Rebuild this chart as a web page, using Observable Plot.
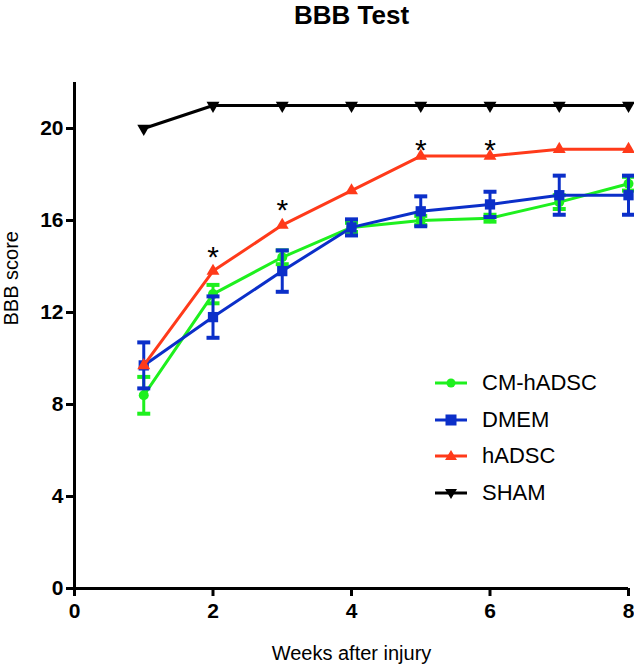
<!DOCTYPE html>
<html>
<head>
<meta charset="utf-8">
<script src="https://cdn.jsdelivr.net/npm/d3@7"></script>
<script src="https://cdn.jsdelivr.net/npm/@observablehq/plot@0.6"></script>
<style>
  html, body { margin: 0; padding: 0; background: #fff; }
  #wrap { position: relative; width: 634px; height: 668px; font-family: "Liberation Sans", Arial, sans-serif; }
  #legend { position: absolute; left: 435px; top: 365px; }
  .row { display: flex; align-items: center; height: 36.5px; font-size: 22px; color: #000; }
  .row svg { margin-right: 15px; }
</style>
</head>
<body>
<div id="wrap"></div>
<script>
// ---- data ----
const weeks = [1, 2, 3, 4, 5, 6, 7, 8];
const seriesNames = ["CM-hADSC", "DMEM", "hADSC", "SHAM"];
const cmMean = [8.4, 12.8, 14.4, 15.7, 16.0, 16.1, 16.8, 17.6];
const cmErr = [0.8, 0.4, 0.3, 0.2, 0.2, 0.15, 0.3, 0.3];
const dmemMean = [9.7, 11.8, 13.8, 15.7, 16.4, 16.7, 17.1, 17.1];
const dmemErr = [1.0, 0.9, 0.9, 0.35, 0.65, 0.55, 0.85, 0.85];
const hadscMean = [9.7, 13.8, 15.8, 17.3, 18.8, 18.8, 19.1, 19.1];
const shamMean = [20, 21, 21, 21, 21, 21, 21, 21];
const sigWeeks = [2, 3, 5, 6];
const sigY = [14.75, 16.8, 19.4, 19.4];
const xTicks = [0, 2, 4, 6, 8];
const yTicks = [0, 4, 8, 12, 16, 20];
const colors = {"CM-hADSC": "#1ef01e", "DMEM": "#0b2fc9", "hADSC": "#ff3a1a", "SHAM": "#000000"};

// ---- symbols ----
const triangleDown = {
  draw(context, size) {
    const k = Math.sqrt(size / (Math.sqrt(3) * 3));
    context.moveTo(0, 2 * k);
    context.lineTo(-Math.sqrt(3) * k, -k);
    context.lineTo(Math.sqrt(3) * k, -k);
    context.closePath();
  }
};
const capLine = {
  draw(context) {
    context.moveTo(-6.5, 0);
    context.lineTo(6.5, 0);
  }
};

function rows(name, mean, err) {
  return weeks.map((w, i) => ({
    name, week: w, value: mean[i],
    lo: err ? mean[i] - err[i] : mean[i],
    hi: err ? mean[i] + err[i] : mean[i]
  }));
}
const cmRows = rows("CM-hADSC", cmMean, cmErr);
const dmemRows = rows("DMEM", dmemMean, dmemErr);
const hadscRows = rows("hADSC", hadscMean, null);
const shamRows = rows("SHAM", shamMean, null);
const sigRows = sigWeeks.map((w, i) => ({week: w, y: sigY[i]}));

function errMarks(data, color) {
  return [
    Plot.ruleX(data, {x: "week", y1: "lo", y2: "hi", stroke: color, strokeWidth: 3}),
    Plot.dot(data, {x: "week", y: "lo", symbol: capLine, stroke: color, fill: "none", strokeWidth: 4}),
    Plot.dot(data, {x: "week", y: "hi", symbol: capLine, stroke: color, fill: "none", strokeWidth: 4})
  ];
}

const chart = Plot.plot({
  width: 634,
  height: 668,
  marginTop: 82,
  marginBottom: 80,
  marginLeft: 74,
  marginRight: 6,
  style: {fontFamily: "'Liberation Sans', Arial, sans-serif", background: "white", overflow: "visible"},
  x: {domain: [0, 8]},
  y: {domain: [0, 22]},
  marks: [
    Plot.axisX({ticks: xTicks, tickSize: 8, tickPadding: 7, fontSize: 21, fontWeight: "bold", strokeWidth: 3, label: null, tickFormat: d => d}),
    Plot.axisY({ticks: yTicks, tickSize: 8, tickPadding: 3, fontSize: 21, fontWeight: "bold", strokeWidth: 3, label: null, tickFormat: d => d}),
    Plot.ruleY([0], {strokeWidth: 3}),
    Plot.ruleX([0], {strokeWidth: 3}),
    // CM-hADSC
    ...errMarks(cmRows, colors["CM-hADSC"]),
    Plot.line(cmRows, {x: "week", y: "value", stroke: colors["CM-hADSC"], strokeWidth: 3}),
    Plot.dot(cmRows, {x: "week", y: "value", symbol: "circle", r: 5, fill: colors["CM-hADSC"]}),
    // DMEM
    ...errMarks(dmemRows, colors["DMEM"]),
    Plot.line(dmemRows, {x: "week", y: "value", stroke: colors["DMEM"], strokeWidth: 3}),
    Plot.dot(dmemRows, {x: "week", y: "value", symbol: "square", r: 5.8, fill: colors["DMEM"]}),
    // hADSC
    Plot.line(hadscRows, {x: "week", y: "value", stroke: colors["hADSC"], strokeWidth: 3}),
    Plot.dot(hadscRows, {x: "week", y: "value", symbol: "triangle", r: 4.8, fill: colors["hADSC"]}),
    // SHAM
    Plot.line(shamRows, {x: "week", y: "value", stroke: colors["SHAM"], strokeWidth: 3}),
    Plot.dot(shamRows, {x: "week", y: "value", symbol: triangleDown, r: 4.8, fill: colors["SHAM"]}),
    // significance
    Plot.text(sigRows, {x: "week", y: "y", text: () => "*", fontSize: 30, dy: 8, fill: "black"}),
    // titles
    Plot.text(["BBB Test"], {frameAnchor: "top", lineAnchor: "bottom", dy: -59, fontSize: 26, fontWeight: "bold", fill: "black"}),
    Plot.text(["Weeks after injury"], {frameAnchor: "bottom", lineAnchor: "bottom", dy: 71, fontSize: 20, fill: "black"}),
    Plot.text(["BBB score"], {frameAnchor: "left", lineAnchor: "bottom", rotate: -90, dx: -57, dy: -10, fontSize: 20, fill: "black"})
  ]
});

const wrap = document.getElementById("wrap");
wrap.appendChild(chart);

// ---- legend ----
const legendSymbols = {
  "CM-hADSC": '<circle cx="16" cy="9" r="4.5" fill="COLOR"/>',
  "DMEM": '<rect x="10.5" y="3.5" width="11" height="11" fill="COLOR"/>',
  "hADSC": '<path d="M16,3 L22,13 L10,13 Z" fill="COLOR"/>',
  "SHAM": '<path d="M16,15 L22,5 L10,5 Z" fill="COLOR"/>'
};
const legend = document.createElement("div");
legend.id = "legend";
for (const name of seriesNames) {
  const c = colors[name];
  const row = document.createElement("div");
  row.className = "row";
  row.innerHTML = `<svg width="32" height="18" viewBox="0 0 32 18"><line x1="0" x2="32" y1="9" y2="9" stroke="${c}" stroke-width="3"/>${legendSymbols[name].replace("COLOR", c)}</svg><span>${name}</span>`;
  legend.appendChild(row);
}
wrap.appendChild(legend);
</script>
</body>
</html>
